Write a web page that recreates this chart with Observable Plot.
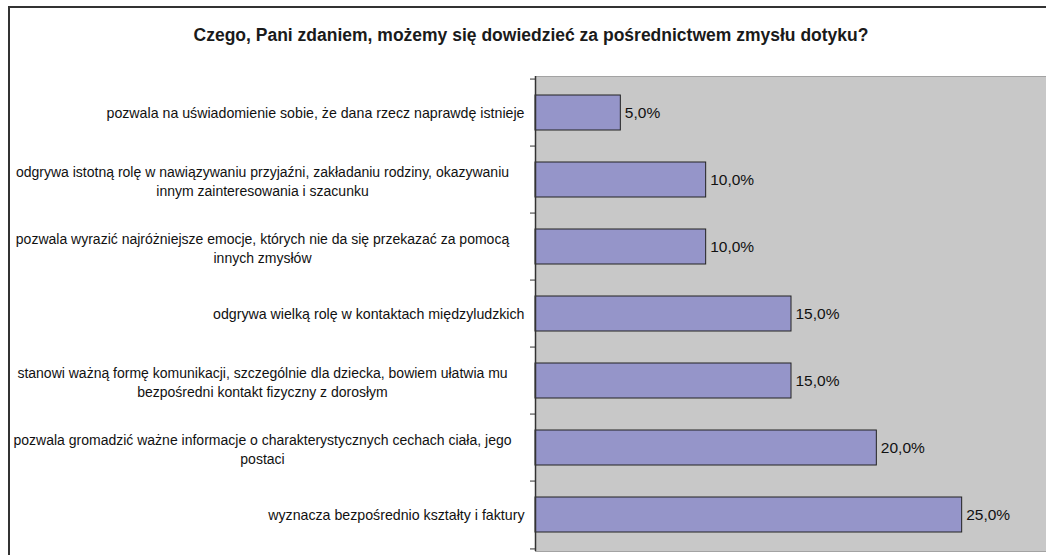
<!DOCTYPE html>
<html>
<head>
<meta charset="utf-8">
<script src="https://cdn.jsdelivr.net/npm/d3@7"></script>
<script src="https://cdn.jsdelivr.net/npm/@observablehq/plot@0.6"></script>
<style>
  html, body { margin: 0; padding: 0; background: #fff; }
  #wrap { position: relative; width: 1046px; height: 555px; overflow: hidden; font-family: "Liberation Sans", Arial, sans-serif; }
  #border { position: absolute; left: 8px; top: 6px; width: 2000px; height: 2000px; border-left: 2px solid #333; border-top: 2px solid #333; box-sizing: border-box; }
  #title { position: relative; height: 60px; padding-top: 25px; box-sizing: border-box; padding-left: 16px; text-align: center; font-weight: bold; font-size: 17.5px; line-height: 20px; color: #1a1a1a; }
  #chart { position: relative; }
  #chart svg { display: block; }
</style>
</head>
<body>
<div id="wrap">
  <div id="border"></div>
  <div id="title">Czego, Pani zdaniem, możemy się dowiedzieć za pośrednictwem zmysłu dotyku?</div>
  <div id="chart"></div>
</div>
<script>
const categories = [
  "pozwala na uświadomienie sobie, że dana rzecz naprawdę istnieje",
  "odgrywa istotną rolę w nawiązywaniu przyjaźni, zakładaniu rodziny, okazywaniu\ninnym zainteresowania i szacunku",
  "pozwala wyrazić najróżniejsze emocje, których nie da się przekazać za pomocą\ninnych zmysłów",
  "odgrywa wielką rolę w kontaktach międzyludzkich",
  "stanowi ważną formę komunikacji, szczególnie dla dziecka, bowiem ułatwia mu\nbezpośredni kontakt fizyczny z dorosłym",
  "pozwala gromadzić ważne informacje o charakterystycznych cechach ciała, jego\npostaci",
  "wyznacza bezpośrednio kształty i faktury"
];
const values = [5, 10, 10, 15, 15, 20, 25];

const data = categories.map((c, i) => ({label: c, value: values[i], multi: c.includes("\n")}));
const fmt = v => v.toFixed(1).replace(".", ",") + "%";

const chart = Plot.plot({
  width: 1046,
  height: 495,
  marginTop: 16,
  marginBottom: 4,
  marginLeft: 535,
  marginRight: -1,
  style: {fontFamily: "'Liberation Sans', Arial, sans-serif", background: "transparent"},
  x: {domain: [0, 30], axis: null},
  y: {domain: categories, paddingInner: 0.484, paddingOuter: 0.242, axis: null},
  marks: [
    Plot.frame({fill: "#c8c8c8", stroke: "#a3a3a3"}),
    Plot.barX(data, {x: "value", y: "label", fill: "#9595c9", stroke: "#222", strokeWidth: 1}),
    Plot.ruleX([0], {stroke: "#333", strokeWidth: 1.5}),
    Plot.axisY({tickSize: 5, tickFormat: () => "", label: null, dy: -475 / 14, stroke: "#333"}),
    Plot.axisY([categories[categories.length - 1]], {tickSize: 5, tickFormat: () => "", label: null, dy: 475 / 14, stroke: "#333"}),
    Plot.text(data.filter(d => !d.multi), {x: 0, y: "label", text: "label", textAnchor: "end", dx: -11, fontSize: 14.2, fill: "#111"}),
    Plot.text(data.filter(d => d.multi), {x: 0, y: "label", text: "label", textAnchor: "middle", dx: -273, fontSize: 14, lineHeight: 1.38, fill: "#111"}),
    Plot.text(data, {x: "value", y: "label", text: d => fmt(d.value), textAnchor: "start", dx: 4, fontSize: 15.5, fill: "#111"})
  ]
});
document.getElementById("chart").appendChild(chart);
</script>
</body>
</html>
